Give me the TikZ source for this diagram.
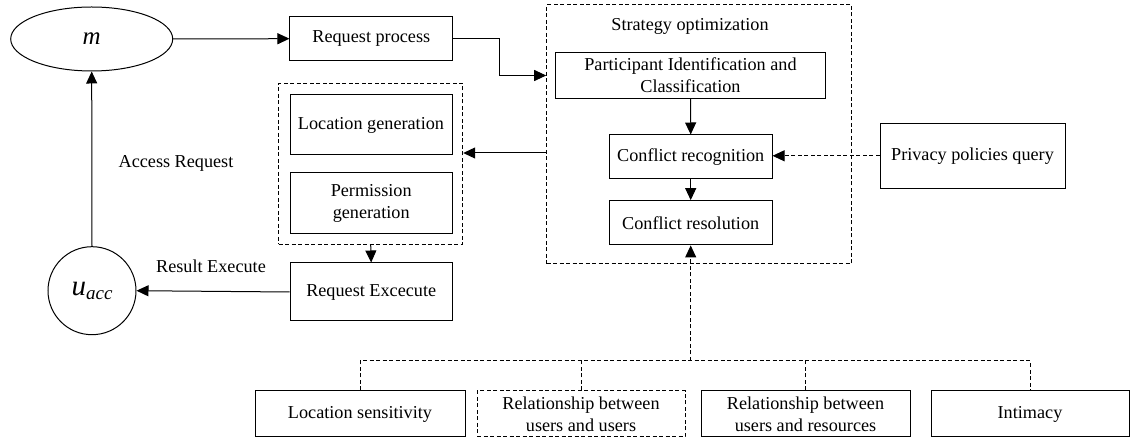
\documentclass[tikz,border=0pt]{standalone}
\usepackage{fontspec}
\setmainfont{Liberation Serif}
\usetikzlibrary{shapes.geometric}
\usetikzlibrary{arrows.meta}

\begin{document}
\begin{tikzpicture}[x=1pt, y=-1pt,
    every node/.style={font=\fontsize{18.2}{22}\selectfont},
    proc/.style={draw, line width=1pt, inner sep=0pt, align=center},
    grouping/.style={draw, line width=1pt, dash pattern=on 4pt off 2.5pt, inner sep=0pt},
    >={Triangle[length=12pt, width=11pt]},
    line width=1pt]

  \useasboundingbox[fill=white] (0,0) rectangle (1133,443);

  % User side
  \node[draw, shape=ellipse, line width=1pt, minimum width=162pt, minimum height=64pt, inner sep=0pt] (m) at (91.7,39)
    {\fontsize{25}{25}\selectfont\textit{m}};
  \node[draw, shape=circle, line width=1pt, minimum size=88pt, inner sep=0pt] (u) at (92,290.7)
    {\fontsize{29}{29}\selectfont\textit{u}\raisebox{-0.3ex}{\fontsize{19}{19}\selectfont\textit{acc}}};
  \node (acc) at (176,163) {Access Request};
  \node (res) at (211,266) {Result Execute};

  % Request handling
  \node[proc, minimum width=162.7pt, minimum height=44pt] (rp) at (371.3,38.7) {Request process};
  \node[grouping, minimum width=184pt, minimum height=161pt] (grp) at (370.7,163.8) {};
  \node[proc, minimum width=162pt, minimum height=60pt] (lg) at (371,125) {Location generation};
  \node[proc, minimum width=162.3pt, minimum height=61pt] (pg) at (371.2,203.5) {Permission\\generation};
  \node[proc, minimum width=162.3pt, minimum height=58pt] (re) at (371.2,292) {Request Excecute};

  % Strategy optimization
  \node[grouping, minimum width=305pt, minimum height=259pt] (strat) at (699.2,134.5) {};
  \node (stitle) at (690,26.7) {Strategy optimization};
  \node[proc, minimum width=270.4pt, minimum height=45.6pt] (pic) at (690.5,75.5) {Participant Identification and\\Classification};
  \node[proc, minimum width=162.7pt, minimum height=44pt] (cr) at (690.7,157) {Conflict recognition};
  \node[proc, minimum width=162.7pt, minimum height=44.3pt] (cres) at (690.7,222.8) {Conflict resolution};
  \node[proc, minimum width=185pt, minimum height=65pt] (ppq) at (972.5,155.8) {Privacy policies query};

  % Factors
  \node[proc, minimum width=210pt, minimum height=46pt] (ls) at (360,414) {Location sensitivity};
  \node[grouping, align=center, minimum width=208pt, minimum height=46pt] (ruu) at (581,414) {Relationship between\\users and users};
  \node[proc, minimum width=209pt, minimum height=46pt] (rur) at (805.5,414) {Relationship between\\users and resources};
  \node[proc, minimum width=198pt, minimum height=46pt] (int) at (1030,414) {Intimacy};
  \coordinate (bus) at (690.7,361);

  % Main flow
  \path[draw,->] (m.east) to (rp.west);
  \path[draw,->] (rp.east) -- ++(46.6,0) |- (pic -| strat.west);
  \path[draw,->] (pic.south) to (cr.north);
  \path[draw,->] (cr.south) to (cres.north);
  \path[draw,->] (strat.west |- 0,153) to (grp.east |- 0,153);
  \path[draw,->] (grp.south) to (re.north);
  \path[draw,->] (re.west) to (u.east);
  \path[draw,->] (u.north) to (m.south);

  % Dashed inputs
  \path[draw, dash pattern=on 4pt off 2.5pt, ->] (ppq.west) to (ppq.west -| cr.east);
  \path[draw, dash pattern=on 4pt off 2.5pt] (ls.north) |- (int.north |- bus) -- (int.north);
  \path[draw, dash pattern=on 4pt off 2.5pt] (ruu.north) -- (ruu.north |- bus);
  \path[draw, dash pattern=on 4pt off 2.5pt] (rur.north) -- (rur.north |- bus);
  \path[draw, dash pattern=on 4pt off 2.5pt, ->] (bus) to (cres.south);

\end{tikzpicture}
\end{document}
